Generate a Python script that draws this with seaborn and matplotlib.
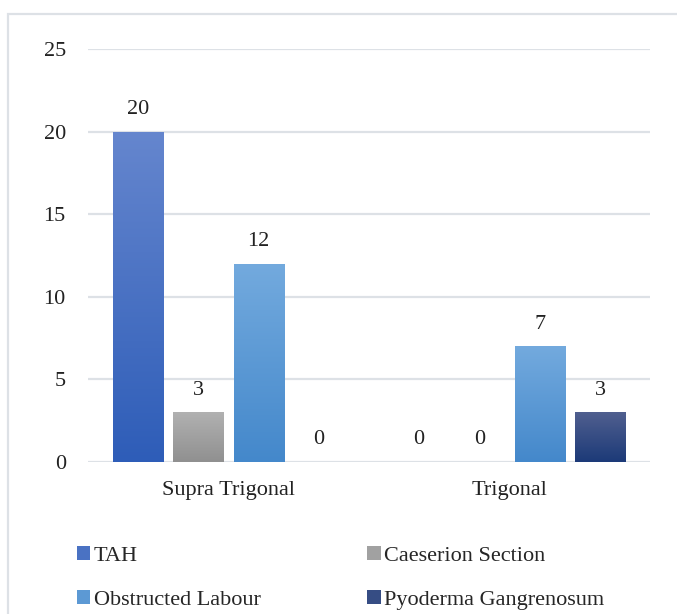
import numpy as np
import pandas as pd
import matplotlib
matplotlib.use("Agg")
import matplotlib.pyplot as plt
import seaborn as sns
from matplotlib.colors import to_rgb
from matplotlib.patches import Rectangle, Patch

# ------------------------------------------------------------
# DATA
# ------------------------------------------------------------
categories = ["Supra Trigonal", "Trigonal"]
series = ["TAH", "Caeserion Section", "Obstructed Labour", "Pyoderma Gangrenosum"]
tah = [20, 0]
caeserion = [3, 0]
obstructed = [12, 7]
pyoderma = [0, 3]

# gradient colours (top, bottom) per series
grad_top = ["#6586CE", "#B1B1B1", "#73AADE", "#505F8F"]
grad_bottom = ["#2E5DB8", "#909090", "#4488CB", "#1C3A78"]

df = pd.DataFrame({
    "category": categories * 4,
    "series": [s for s in series for _ in categories],
    "value": tah + caeserion + obstructed + pyoderma,
})

# ------------------------------------------------------------
# PLOT
# ------------------------------------------------------------
sns.set_theme(style="white")
plt.rcParams["font.family"] = ["Liberation Serif", "DejaVu Serif"]
fs = 16

mid = [tuple((np.array(to_rgb(t)) + np.array(to_rgb(b))) / 2)
       for t, b in zip(grad_top, grad_bottom)]

fig = plt.figure(figsize=(6.77, 6.14), dpi=100)
ax = fig.add_axes([88 / 677, 1 - 462 / 614, 562 / 677, 413 / 614])

sns.barplot(
    data=df, x="category", y="value", hue="series",
    hue_order=series, order=categories, palette=mid,
    width=0.86, gap=0.17, legend=False, ax=ax,
)

# replace flat fills by vertical gradients
for cont, top, bot in zip(ax.containers, grad_top, grad_bottom):
    c_top = np.array(to_rgb(top))
    c_bot = np.array(to_rgb(bot))
    for bar in cont:
        h = bar.get_height()
        if h <= 0:
            bar.set_alpha(0)
            continue
        t = np.linspace(0, 1, 128)[:, None]
        img = (c_top[None, :] * (1 - t) + c_bot[None, :] * t)[:, None, :]
        x0 = bar.get_x()
        w = bar.get_width()
        im = ax.imshow(img, extent=[x0, x0 + w, 0, h], aspect="auto",
                       origin="upper", zorder=2)
        im.set_clip_path(bar)
        bar.set_facecolor("none")
        bar.set_edgecolor("none")
    ax.bar_label(cont, padding=9, fontsize=fs, color="#222222")

ax.set_xlim(-0.5, 1.5)
ax.set_ylim(0, 25)
ax.set_yticks([0, 5, 10, 15, 20, 25])
ax.yaxis.grid(True, color="#DDE1E6", linewidth=1.6)
ax.set_axisbelow(True)
for s in ["top", "right", "left", "bottom"]:
    ax.spines[s].set_visible(False)
ax.set_xlabel("")
ax.set_ylabel("")
ax.tick_params(axis="y", length=0, pad=16, labelsize=fs, labelcolor="#222222")
ax.tick_params(axis="x", length=0, pad=14, labelsize=fs, labelcolor="#222222")

# outer chart border
fig.patches.append(Rectangle((8 / 677, -0.1), 1.2, 1 - 14 / 614 + 0.1,
                             transform=fig.transFigure, fill=False,
                             edgecolor="#DDE1E6", linewidth=1.6))

# legend filled row by row: TAH, Caeserion / Obstructed, Pyoderma
order = [0, 2, 1, 3]
handles = [Patch(facecolor=mid[i], edgecolor="none") for i in order]
labels = [series[i] for i in order]
fig.legend(handles, labels, loc="upper left",
           bbox_to_anchor=(57 / 677, 1 - 526 / 614), ncol=2,
           frameon=False, fontsize=fs, handlelength=0.6, handleheight=0.6,
           handletextpad=0.15, columnspacing=4.8, labelspacing=1.1)

plt.savefig("out.png", dpi=100)
plt.close()
